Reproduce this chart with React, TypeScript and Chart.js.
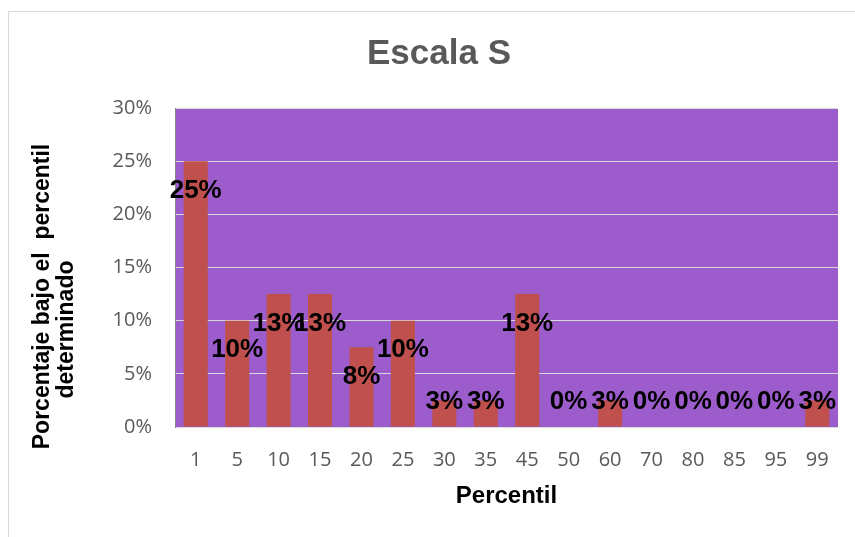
import React, { useEffect, useRef } from "react";
import { Chart, registerables } from "chart.js";

Chart.register(...registerables);

const categories = ["1", "5", "10", "15", "20", "25", "30", "35", "45", "50", "60", "70", "80", "85", "95", "99"];
const percentages = [25, 10, 12.5, 12.5, 7.5, 10, 2.5, 2.5, 12.5, 0, 2.5, 0, 0, 0, 0, 2.5];
const yTickValues = [0, 5, 10, 15, 20, 25, 30];
const chartTitle = "Escala S";
const xAxisTitle = "Percentil";
const yAxisTitleLines = ["Porcentaje bajo el  percentil", "determinado"];

const PLOT_BG = "#9C5CCB";
const BAR_COLOR = "#C0504D";
const TICK_COLOR = "#595959";

const backgroundPlugin = {
  id: "bgPlugin",
  beforeDraw(chart: any) {
    const { ctx, chartArea, width, height } = chart;
    ctx.save();
    ctx.fillStyle = "#ffffff";
    ctx.fillRect(0, 0, width, height);
    ctx.strokeStyle = "#D9D9D9";
    ctx.lineWidth = 1;
    ctx.strokeRect(8.5, 11.5, width + 50, height + 50);
    ctx.fillStyle = PLOT_BG;
    ctx.fillRect(chartArea.left, chartArea.top, chartArea.right - chartArea.left, chartArea.bottom - chartArea.top);
    ctx.restore();
  },
};

const yTitlePlugin = {
  id: "yTitlePlugin",
  afterDraw(chart: any) {
    const { ctx, chartArea } = chart;
    const midY = (chartArea.top + chartArea.bottom) / 2;
    const placements = [
      { x: chartArea.left - 126, y: midY + 29 },
      { x: chartArea.left - 102, y: midY + 62 },
    ];
    ctx.save();
    ctx.fillStyle = "#000000";
    ctx.font = "bold 23px 'Liberation Sans', Arial, sans-serif";
    ctx.textAlign = "center";
    ctx.textBaseline = "alphabetic";
    yAxisTitleLines.forEach((line, i) => {
      const p = placements[i];
      ctx.save();
      ctx.translate(p.x, p.y);
      ctx.rotate(-Math.PI / 2);
      ctx.fillText(line, 0, 0);
      ctx.restore();
    });
    ctx.restore();
  },
};

const dataLabelPlugin = {
  id: "dataLabelPlugin",
  afterDatasetsDraw(chart: any) {
    const { ctx, chartArea } = chart;
    const meta = chart.getDatasetMeta(0);
    const data = chart.data.datasets[0].data as number[];
    ctx.save();
    ctx.fillStyle = "#000000";
    ctx.font = "bold 26px 'Liberation Sans', Arial, sans-serif";
    ctx.textAlign = "center";
    ctx.textBaseline = "middle";
    meta.data.forEach((bar: any, i: number) => {
      const y = Math.min(bar.y + 29.5, chartArea.bottom - 25);
      ctx.fillText(Math.round(data[i]) + "%", bar.x, y);
    });
    ctx.restore();
  },
};

export default function App() {
  const canvasRef = useRef<HTMLCanvasElement | null>(null);

  useEffect(() => {
    if (!canvasRef.current) return;
    const chart = new Chart(canvasRef.current, {
      type: "bar",
      data: {
        labels: categories,
        datasets: [
          {
            data: percentages,
            backgroundColor: BAR_COLOR,
            borderWidth: 0,
            barPercentage: 0.58,
            categoryPercentage: 1,
          },
        ],
      },
      options: {
        responsive: false,
        animation: false,
        layout: { padding: { top: 33, left: 40, right: 17, bottom: 10 } },
        plugins: {
          legend: { display: false },
          tooltip: { enabled: false },
          title: {
            display: true,
            text: chartTitle,
            color: TICK_COLOR,
            font: { family: "'Liberation Sans', Arial, sans-serif", size: 35, weight: "bold", lineHeight: 1.2 },
            padding: { top: 0, bottom: 33 },
          },
        },
        scales: {
          x: {
            grid: { display: false, drawTicks: false },
            border: { color: "#D9D9D9", width: 1 },
            ticks: {
              color: TICK_COLOR,
              font: { family: "'Open Sans', sans-serif", size: 20 },
              padding: 21,
              maxRotation: 0,
              autoSkip: false,
            },
            title: {
              display: true,
              text: xAxisTitle,
              color: "#000000",
              font: { family: "'Liberation Sans', Arial, sans-serif", size: 24, weight: "bold", lineHeight: 1.2 },
              padding: { top: 0, bottom: 16 },
            },
            afterFit(scale: any) {
              scale.height = 100;
            },
          },
          y: {
            min: 0,
            max: 30,
            grid: { color: "#D9D9D9", lineWidth: 1, drawTicks: false },
            border: { color: "#868686", width: 1 },
            ticks: {
              color: TICK_COLOR,
              font: { family: "'Open Sans', sans-serif", size: 20 },
              padding: 23,
              callback: (v: any) => v + "%",
            },
            afterBuildTicks(scale: any) {
              scale.ticks = yTickValues.map((v) => ({ value: v }));
            },
            afterFit(scale: any) {
              scale.width = 135;
            },
          },
        },
      },
      plugins: [backgroundPlugin, dataLabelPlugin, yTitlePlugin],
    } as any);
    return () => chart.destroy();
  }, []);

  return (
    <canvas
      ref={canvasRef}
      width={855}
      height={537}
      style={{ position: "absolute", left: 0, top: 0, display: "block" }}
    />
  );
}
